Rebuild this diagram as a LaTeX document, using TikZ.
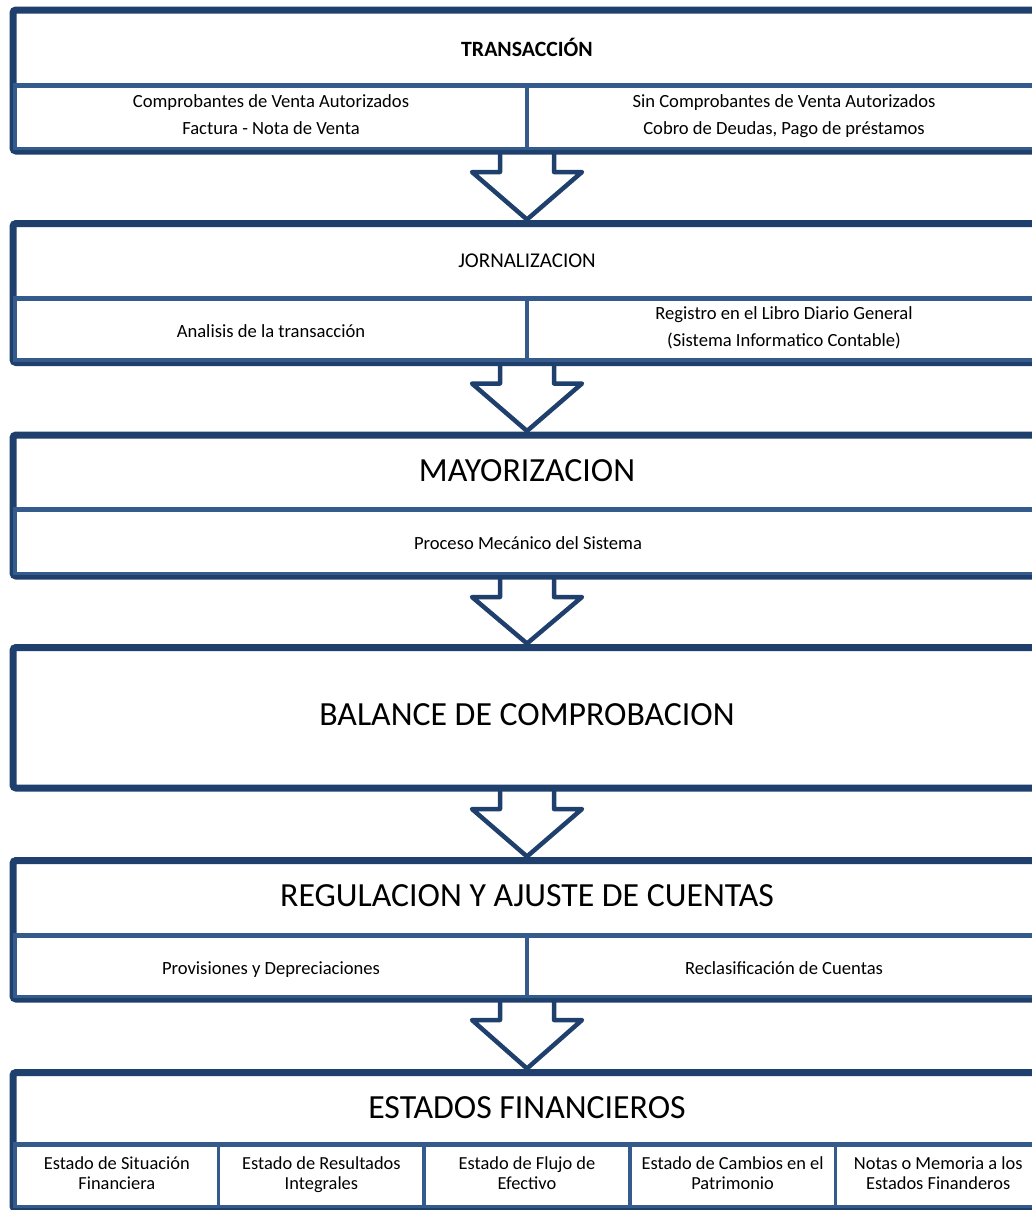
\documentclass[tikz,border=0pt]{standalone}
\usepackage{fontspec}
\setmainfont{Carlito}
\usetikzlibrary{calc,backgrounds}
\definecolor{dk}{RGB}{31,63,109}
\definecolor{lt}{RGB}{52,91,139}
\newcommand\blockarrow[2]{%
  \draw[barrow] ($(#1.south)+(-27,-3)$) -- ($(#1.south)+(-27,21)$)
     -- ($(#1.south)+(-55,21)$) -- ($(#2.north)+(0,-4)$)
     -- ($(#1.south)+(55,21)$) -- ($(#1.south)+(27,21)$)
     -- ($(#1.south)+(27,-3)$);}
\begin{document}
\begin{tikzpicture}[x=1pt,y=-1pt,
  frame/.style={draw=dk, line width=7pt, fill=white, rounded corners=3pt,
    inner sep=0pt, outer sep=0pt, anchor=north west, minimum width=1028pt},
  cell/.style={draw=lt, line width=3.5pt, inner sep=0pt, outer sep=0pt,
    anchor=north west, align=center, font=\fontsize{18.6}{27}\selectfont,
    execute at begin node=\rule{0pt}{21.8pt}, execute at end node=\rule[-5pt]{0pt}{5pt}},
  cellsix/.style={cell, font=\fontsize{18.4}{20}\selectfont, minimum width=205.6pt, minimum height=62.5pt,
    execute at begin node=\rule{0pt}{21pt}},
  bigtitle/.style={font=\fontsize{33.8}{36}\selectfont, inner sep=0pt},
  smalltitle/.style={font=\fontsize{21}{24}\selectfont, inner sep=0pt},
  sepline/.style={draw=lt, line width=5pt},
  barrow/.style={draw=dk, line width=4.5pt, fill=white, line join=round},
]
\useasboundingbox (0,0) rectangle (1032,1210);
\clip (0,0) rectangle (1032,1210);

% Box 1
\node[frame, minimum height=141pt] (f1) at (13,10) {};
\node[cell, minimum width=512pt, minimum height=63pt] (c11) at (15,85.5)
  {Comprobantes de Venta Autorizados\\Factura - Nota de Venta};
\node[cell, minimum width=514pt, minimum height=63pt] (c12) at (527,85.5)
  {Sin Comprobantes de Venta Autorizados\\Cobro de Deudas, Pago de préstamos};
\draw[sepline] (f1.west |- c11.north) -- (f1.east |- c11.north);
\node[smalltitle, font=\fontsize{21.8}{24}\selectfont\bfseries] (t1) at (527,47) {TRANSACCIÓN};

% Box 2
\node[frame, minimum height=139pt] (f2) at (13,223.5) {};
\node[cell, minimum width=512pt, minimum height=61.5pt] (c21) at (15,298.5)
  {Analisis de la transacción};
\node[cell, minimum width=514pt, minimum height=61.5pt] (c22) at (527,298.5)
  {Registro en el Libro Diario General\\(Sistema Informatico Contable)};
\draw[sepline] (f2.west |- c21.north) -- (f2.east |- c21.north);
\node[smalltitle] (t2) at (527,261) {JORNALIZACION};

% Box 3
\node[frame, minimum height=141pt] (f3) at (13,435) {};
\node[cell, minimum width=1026pt, minimum height=64pt] (c31) at (15,509.5)
  {Proceso Mecánico del Sistema};
\draw[sepline] (f3.west |- c31.north) -- (f3.east |- c31.north);
\node[bigtitle] (t3) at (527,471) {MAYORIZACION};

% Box 4
\node[frame, minimum height=140.5pt] (f4) at (13,647.5) {};
\node[bigtitle] (t4) at (527,715) {BALANCE DE COMPROBACION};

% Box 5
\node[frame, minimum height=138.5pt] (f5) at (13,860.5) {};
\node[cell, minimum width=512pt, minimum height=61pt] (c51) at (15,935.5)
  {Provisiones y Depreciaciones};
\node[cell, minimum width=514pt, minimum height=61pt] (c52) at (527,935.5)
  {Reclasificación de Cuentas};
\draw[sepline] (f5.west |- c51.north) -- (f5.east |- c51.north);
\node[bigtitle] (t5) at (527,896) {REGULACION Y AJUSTE DE CUENTAS};

% Box 6
\node[frame, minimum height=136.5pt] (f6) at (13,1072.5) {};
\node[cellsix, minimum width=203.6pt] (c61) at (15,1144)
  {Estado de Situación\\Financiera};
\node[cellsix] (c62) at (218.6,1144) {Estado de Resultados\\Integrales};
\node[cellsix] (c63) at (424.2,1144) {Estado de Flujo de\\Efectivo};
\node[cellsix] (c64) at (629.8,1144) {Estado de Cambios en el\\Patrimonio};
\node[cellsix] (c65) at (835.4,1144) {Notas o Memoria a los\\Estados Finanderos};
\draw[sepline] (f6.west |- c61.north) -- (f6.east |- c61.north);
\node[bigtitle] (t6) at (527,1108) {ESTADOS FINANCIEROS};

% Block arrows
\begin{scope}[on background layer]
\blockarrow{f1}{f2}
\blockarrow{f2}{f3}
\blockarrow{f3}{f4}
\blockarrow{f4}{f5}
\blockarrow{f5}{f6}
\end{scope}
\end{tikzpicture}
\end{document}
